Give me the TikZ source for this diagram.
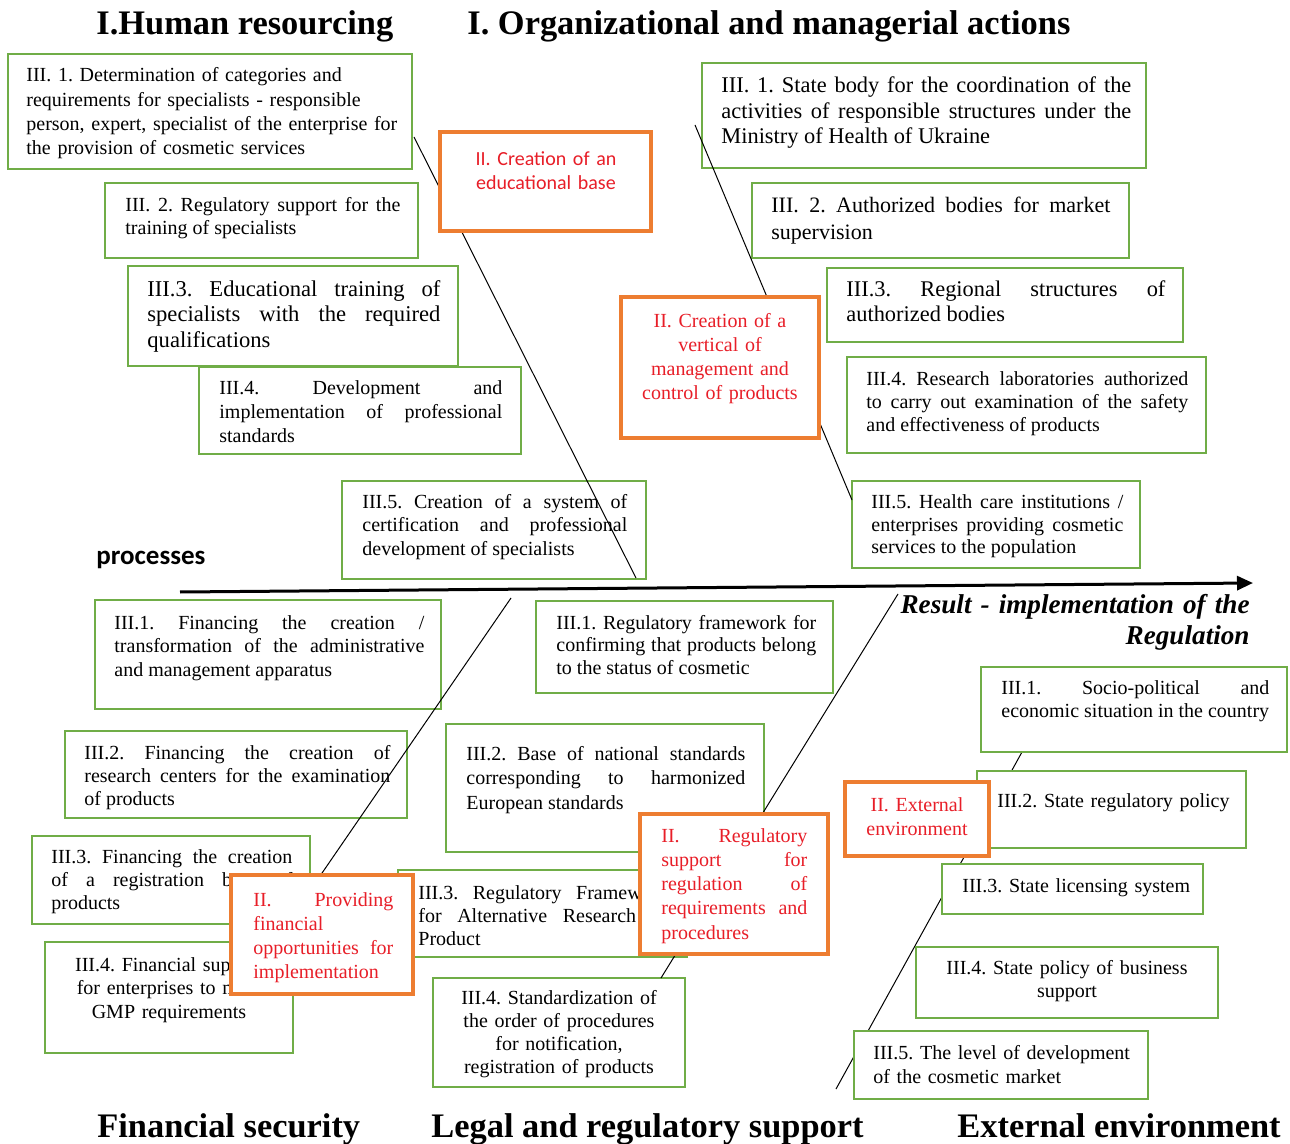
\documentclass[tikz,border=0pt]{standalone}
\usepackage{fontspec}
\setmainfont{Liberation Serif}
\newfontfamily\calfont{Carlito}
\usetikzlibrary{fit,arrows.meta}
\definecolor{boxgreen}{RGB}{112,173,71}
\definecolor{boxorange}{RGB}{237,125,49}
\definecolor{textred}{RGB}{232,30,40}
\tolerance=10000
\hyphenpenalty=10000
\hbadness=10000
\frenchspacing

\begin{document}
\begin{tikzpicture}
					[x=0.5pt,y=-0.5pt,
					gbox/.style={draw=boxgreen,line width=1pt,fill=white,inner sep=0pt},
					obox/.style={draw=boxorange,line width=2pt,fill=white,inner sep=0pt},
					txt/.style={inner sep=0pt,anchor=base west,align=justify,font=\fontsize{10}{#1}\selectfont},
					txt/.default=12,
					bigtxt/.style={txt,font=\fontsize{11.2}{#1}\selectfont},
					ctxt/.style={txt=#1,anchor=base,align=center},
					head/.style={inner sep=0pt,anchor=base west,font=\fontsize{17.2}{20}\selectfont\bfseries},
					diag/.style={line width=0.5pt}]
	\useasboundingbox (0,0) rectangle (1290,1144);
	\node[head] (hrt) at (96,35) {I.Human resourcing};
	\node[head] (ort) at (467,35) {I. Organizational and managerial actions};
	\node[head] (fst) at (97,1137) {Financial security};
	\node[head] (lrt) at (431,1137) {Legal and regulatory support};
	\node[head] (eet) at (957,1137) {External environment};
	\node[inner sep=0pt,anchor=base west,font=\calfont\bfseries\fontsize{13.5}{16}\selectfont] (proc) at (96,564) {processes};
	\node[inner sep=0pt,anchor=base east,align=right,text width=180pt,font=\fontsize{13.6}{15.5}\selectfont\bfseries\itshape] (res) at (1250,613) {Result - implementation of the\\Regulation\hspace*{3pt}};
	\coordinate (axs) at (180,592);
	\coordinate (axe) at (1253,583);
	\draw[line width=1.5pt,-{Triangle[length=8pt,width=7pt]}] (axs) -- (axe);
	\coordinate (eea) at (1022,752);
	\coordinate (eeb) at (836,1089);
	\draw[diag] (eea) -- (eeb);
	\node[gbox,fit={(8,54)(412,169)}] (h1) {};
	\node[txt=12.15,align=left,text width=200pt] (h1t) at (26,82) {III. 1. Determination of categories and\\requirements for specialists - responsible\\person, expert, specialist of the enterprise for\\the provision of cosmetic services};
	\node[gbox,fit={(105,183)(418,258)}] (h2) {};
	\node[txt=11.5,text width=137.5pt] (h2t) at (125,212) {III. 2. Regulatory support for the\linebreak training of specialists};
	\node[gbox,fit={(128,266)(458,366)}] (h3) {};
	\node[txt,font=\fontsize{11.3}{12.75}\selectfont,text width=146.5pt] (h3t) at (147,296.5) {III.3. Educational training of\linebreak specialists with the required\linebreak qualifications};
	\node[gbox,fit={(199,367)(521,454)}] (h4) {};
	\node[txt=12.25,text width=141.5pt] (h4t) at (219,394) {III.4. Development and\linebreak implementation of professional\linebreak standards};
	\node[gbox,fit={(342,481)(646,579)}] (h5) {};
	\node[txt=12,text width=132.5pt] (h5t) at (362,508) {III.5. Creation of a system of\linebreak certification and professional\linebreak development of specialists};
	\node[gbox,fit={(702,63)(1146,168)}] (o1) {};
	\node[bigtxt=12.75,text width=205pt] (o1t) at (721,93) {III. 1. State body for the coordination of the\linebreak activities of responsible structures under the\linebreak Ministry of Health of Ukraine};
	\node[gbox,fit={(752,183)(1129,258)}] (o2) {};
	\node[txt,font=\fontsize{11}{13.5}\selectfont,text width=169.5pt] (o2t) at (771,213) {III. 2. Authorized bodies for market\linebreak supervision};
	\node[gbox,fit={(827,268)(1183,342)}] (o3) {};
	\node[bigtxt=12.5,text width=159.5pt] (o3t) at (846,297) {III.3. Regional structures of\linebreak authorized bodies};
	\node[gbox,fit={(847,357)(1206,453)}] (o4) {};
	\node[txt=11.5,text width=161pt] (o4t) at (866,386) {III.4. Research laboratories authorized\linebreak to carry out examination of the safety\linebreak and effectiveness of products};
	\node[gbox,fit={(852,481)(1140,568)}] (o5) {};
	\node[txt=11.5,text width=126pt] (o5t) at (871,508) {III.5. Health care institutions /\linebreak enterprises providing cosmetic\linebreak services to the population};
	\node[gbox,fit={(95,600)(441,709)}] (f1) {};
	\node[txt=11.75,text width=155pt] (f1t) at (114,629) {III.1. Financing the creation /\linebreak transformation of the administrative\linebreak and management apparatus};
	\node[gbox,fit={(65,731)(407,818)}] (f2) {};
	\node[txt=11.5,text width=153pt] (f2t) at (84,759) {III.2. Financing the creation of\linebreak research centers for the examination\linebreak of products};
	\node[gbox,fit={(32,836)(310,924)}] (f3) {};
	\node[txt=11.5,text width=120.5pt] (f3t) at (51,863) {III.3. Financing the creation\linebreak of a registration base of\linebreak products};
	\node[gbox,fit={(45,942)(293,1053)}] (f4) {};
	\node[ctxt=11.75,text width=120pt] (f4t) at (169,971) {III.4. Financial support\\for enterprises to meet\\GMP requirements};
	\node[gbox,fit={(536,601)(833,693)}] (l1) {};
	\node[txt=11.25,text width=130pt] (l1t) at (556,629) {III.1. Regulatory framework for\linebreak confirming that products belong\linebreak to the status of cosmetic};
	\node[gbox,fit={(446,724)(764,852)}] (l2) {};
	\node[txt=12.25,text width=139.5pt] (l2t) at (466,760) {III.2. Base of national standards\linebreak corresponding to harmonized\linebreak European standards};
	\node[gbox,fit={(398,870)(687,957)}] (l3) {};
	\node[txt=11.5,text width=125pt] (l3t) at (418,899) {III.3. Regulatory Framework\linebreak for Alternative Research of\linebreak Product};
	\node[gbox,fit={(433,978)(685,1087)}] (l4) {};
	\node[ctxt=11.5,text width=125pt] (l4t) at (559,1004) {III.4. Standardization of\\the order of procedures\\for notification,\\registration of products};
	\node[gbox,fit={(981,667)(1287,752)}] (e1) {};
	\node[txt=11.5,text width=134pt] (e1t) at (1001,694) {III.1. Socio-political and\linebreak economic situation in the country};
	\node[gbox,fit={(977,771)(1246,848)}] (e2) {};
	\node[txt,align=left,text width=120pt] (e2t) at (997,807) {III.2. State regulatory policy};
	\node[gbox,fit={(942,864)(1203,914)}] (e3) {};
	\node[txt,align=left,text width=120pt] (e3t) at (962,892) {III.3. State licensing system};
	\node[gbox,fit={(916,947)(1218,1018)}] (e4) {};
	\node[ctxt=11.5,text width=150pt] (e4t) at (1067,974) {III.4. State policy of business\\support};
	\node[gbox,fit={(854,1031)(1148,1099)}] (e5) {};
	\node[txt=12,align=left,text width=140pt] (e5t) at (873,1059) {III.5. The level of development\\of the cosmetic market};
	\coordinate (hra) at (414,137);
	\coordinate (hrb) at (636,578);
	\coordinate (ora) at (695,125);
	\coordinate (orb) at (852,500);
	\coordinate (fsa) at (511,598);
	\coordinate (fsb) at (320,876);
	\coordinate (lra) at (898,594);
	\coordinate (lrb) at (661,978);
	\draw[diag] (hra) -- (hrb);
	\draw[diag] (ora) -- (orb);
	\draw[diag] (fsa) -- (fsb);
	\draw[diag] (lra) -- (lrb);
	\node[obox,fit={(440,132)(651,231)}] (edu) {};
	\node[ctxt=12,text=textred,font=\calfont\fontsize{10}{12}\selectfont,text width=100pt] (edut) at (546,166) {II. Creation of an\\educational base};
	\node[obox,fit={(621,297)(819,438)}] (vert) {};
	\node[ctxt=12,text=textred,text width=95pt] (vertt) at (720,328) {II. Creation of a\\vertical of\\management and\\control of products};
	\node[obox,fit={(231,875)(413,994)}] (fin) {};
	\node[txt=12.15,text=textred,text width=70pt] (fint) at (253,906) {II. Providing\linebreak financial\linebreak opportunities for\linebreak implementation};
	\node[obox,fit={(640,814)(828,954)}] (reg) {};
	\node[txt=12.15,text=textred,text width=73pt] (regt) at (661,842) {II. Regulatory\linebreak support for\linebreak regulation of\linebreak requirements and\linebreak procedures};
	\node[obox,fit={(845,782)(989,856)}] (ext) {};
	\node[ctxt=12,text=textred,text width=70pt] (extt) at (917,811) {II. External\\environment};
\end{tikzpicture}
\end{document}
